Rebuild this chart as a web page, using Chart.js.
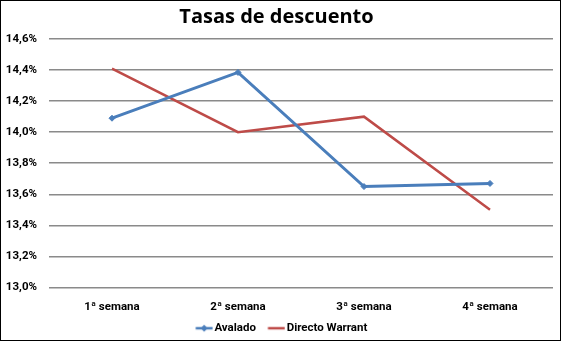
<!DOCTYPE html>
<html>
<head>
<meta charset="utf-8">
<script src="https://cdn.jsdelivr.net/npm/chart.js@4/dist/chart.umd.min.js"></script>
<style>
  html, body { margin: 0; padding: 0; background: #fff; }
  #wrap { width: 561px; height: 341px; position: relative; }
</style>
</head>
<body>
<div id="wrap"><canvas id="c" width="561" height="341"></canvas></div>
<script>
// Discount rates per week (%)
const categories = ['1ª semana', '2ª semana', '3ª semana', '4ª semana'];
const avalado = [14.09, 14.385, 13.65, 13.67];
const directoWarrant = [14.41, 14.00, 14.10, 13.50];
const yTicks = [13.0, 13.2, 13.4, 13.6, 13.8, 14.0, 14.2, 14.4, 14.6];

const BLUE = '#4a7ebb';
const RED = '#be4b48';
const tickFont = { family: 'Roboto, "Liberation Sans", sans-serif', size: 11.5, weight: 'bold' };

// Legend symbols: a 17px line (with a diamond for the marked series),
// drawn on a wider transparent canvas so it sits right next to its text
function legendSymbol(color, diamond) {
  const cv = document.createElement('canvas');
  cv.width = 32; cv.height = 10;
  const g = cv.getContext('2d');
  const o = 14.5;
  g.strokeStyle = color; g.lineWidth = 2.5;
  g.beginPath(); g.moveTo(o, 5); g.lineTo(o + 17, 5); g.stroke();
  if (diamond) {
    const c = o + 8.5;
    g.fillStyle = color;
    g.beginPath(); g.moveTo(c, 1.5); g.lineTo(c + 3.5, 5); g.lineTo(c, 8.5); g.lineTo(c - 3.5, 5); g.closePath(); g.fill();
  }
  return cv;
}

// Thin black frame around the whole chart; legend nudged a little lower
const framePlugin = {
  id: 'frame',
  afterLayout(chart) {
    if (chart.legend) {
      chart.legend.top += 3;
      chart.legend.bottom += 3;
    }
  },
  afterDraw(chart) {
    const ctx = chart.ctx;
    ctx.save();
    ctx.strokeStyle = '#000';
    ctx.lineWidth = 1;
    ctx.strokeRect(0.5, 0.5, chart.width - 1, chart.height - 1);
    ctx.restore();
  }
};

new Chart(document.getElementById('c'), {
  type: 'line',
  data: {
    labels: categories,
    datasets: [
      {
        label: 'Avalado',
        data: avalado,
        borderColor: BLUE,
        backgroundColor: BLUE,
        borderWidth: 3,
        pointStyle: 'rectRot',
        pointRadius: 3,
        pointBorderWidth: 1,
        pointBackgroundColor: BLUE,
        pointBorderColor: BLUE,
        tension: 0
      },
      {
        label: 'Directo Warrant',
        data: directoWarrant,
        borderColor: RED,
        backgroundColor: RED,
        borderWidth: 2.5,
        pointRadius: 0,
        tension: 0
      }
    ]
  },
  options: {
    responsive: false,
    animation: false,
    devicePixelRatio: 1,
    layout: { padding: { left: 0, right: 8, top: 0, bottom: 0 } },
    plugins: {
      title: {
        display: true,
        text: 'Tasas de descuento',
        color: '#000',
        font: { family: '"Open Sans", sans-serif', size: 20, weight: 'bold' },
        padding: { top: 5, bottom: 10 }
      },
      legend: {
        display: true,
        position: 'bottom',
        labels: {
          color: '#000',
          font: tickFont,
          usePointStyle: true,
          pointStyleWidth: 23,
          boxHeight: 10,
          padding: 2,
          generateLabels(chart) {
            return chart.data.datasets.map((ds, i) => ({
              text: ds.label,
              fillStyle: ds.borderColor,
              strokeStyle: ds.borderColor,
              lineWidth: 0,
              pointStyle: legendSymbol(ds.borderColor, i === 0),
              datasetIndex: i,
              hidden: false,
              fontColor: '#000'
            }));
          }
        }
      },
      tooltip: { enabled: false }
    },
    scales: {
      x: {
        offset: true,
        grid: { display: false, drawTicks: false },
        border: { display: false },
        afterFit(scale) { scale.height = 30; },
        ticks: { color: '#000', font: tickFont, padding: 13, maxRotation: 0 }
      },
      y: {
        min: 13.0,
        max: 14.6,
        afterFit(scale) { scale.width = 49; },
        afterBuildTicks(scale) { scale.ticks = yTicks.map(v => ({ value: v })); },
        grid: { color: '#8a8a8a', lineWidth: 1.5, drawTicks: false },
        border: { display: false },
        ticks: {
          color: '#000',
          font: tickFont,
          padding: 12,
          callback: v => v.toFixed(1).replace('.', ',') + '%'
        }
      }
    }
  },
  plugins: [framePlugin]
});
</script>
</body>
</html>
